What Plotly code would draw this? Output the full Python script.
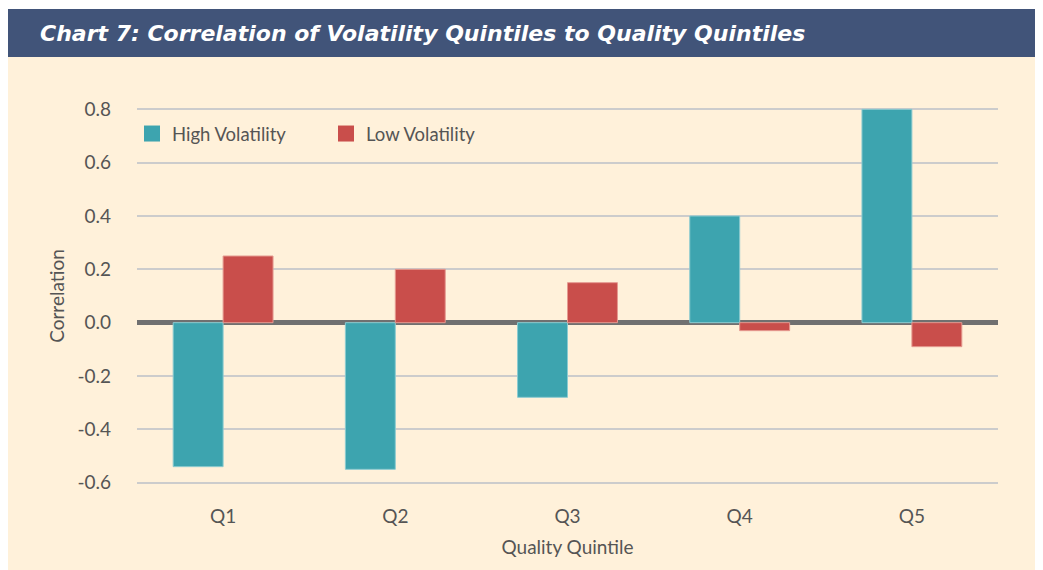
import plotly.graph_objects as go

categories = ["Q1", "Q2", "Q3", "Q4", "Q5"]
high_vol = [-0.54, -0.55, -0.28, 0.40, 0.80]
low_vol = [0.25, 0.20, 0.15, -0.03, -0.09]
y_ticks = [0.8, 0.6, 0.4, 0.2, 0.0, -0.2, -0.4, -0.6]
y_tick_text = ["0.8", "0.6", "0.4", "0.2", "0.0", "-0.2", "-0.4", "-0.6"]

TEAL = "#3da4af"
RED = "#c94e4b"
CREAM = "#fff1da"
BLUE = "#415479"
TXT = "#555555"
FONT = "Lato, 'Open Sans', sans-serif"

W, H = 1035, 562
L, R, T, B = 129, 45, 88, 74
PW, PH = W - L - R, H - T - B

fig = go.Figure()
fig.add_trace(go.Bar(x=categories, y=high_vol, name="High Volatility",
                     marker=dict(color=TEAL, line=dict(color="#8ccbd0", width=1)),
                     showlegend=False))
fig.add_trace(go.Bar(x=categories, y=low_vol, name="Low Volatility",
                     marker=dict(color=RED, line=dict(color="#e59a90", width=1)),
                     showlegend=False))
# legend entries with larger square swatches
fig.add_trace(go.Scatter(x=[None], y=[None], mode="markers", name="High Volatility",
                         marker=dict(symbol="square", size=20, color=TEAL)))
fig.add_trace(go.Scatter(x=[None], y=[None], mode="markers", name="Low Volatility",
                         marker=dict(symbol="square", size=20, color=RED)))

fig.update_layout(
    width=W, height=H,
    margin=dict(l=L, r=R, t=T, b=B),
    paper_bgcolor=CREAM, plot_bgcolor=CREAM,
    barmode="group", bargap=0.42, bargroupgap=0,
    font=dict(family=FONT, size=19, color=TXT),
    showlegend=True,
    legend=dict(orientation="h", x=-5 / PW, y=0.985 - 13 / PH, xanchor="left", yanchor="top",
                bgcolor="rgba(0,0,0,0)", font=dict(size=18.5, color=TXT),
                entrywidth=149, entrywidthmode="pixels"),
    xaxis=dict(showgrid=False, showline=False, ticks="", ticklabelstandoff=7,
               title=dict(text="Quality Quintile", standoff=14, font=dict(size=19)),
               tickfont=dict(size=19)),
    yaxis=dict(range=[-0.65, 0.85], tickvals=y_ticks, ticktext=y_tick_text,
               showgrid=True, gridcolor="#cccccc", gridwidth=2,
               zeroline=True, zerolinecolor="#707070", zerolinewidth=5,
               showline=False, ticks="", ticklabelstandoff=25,
               title=dict(text="Correlation", standoff=7, font=dict(size=19)),
               tickfont=dict(size=19)),
    shapes=[
        dict(type="rect", xref="paper", yref="paper", layer="below",
             x0=-L / PW, x1=(W - L) / PW, y0=1 + (T - 1) / PH, y1=1 + T / PH,
             fillcolor="white", line=dict(width=0)),
        dict(type="rect", xref="paper", yref="paper", layer="below",
             x0=-L / PW, x1=(W - L) / PW, y0=1 + (T - 49) / PH, y1=1 + (T - 1) / PH,
             fillcolor=BLUE, line=dict(width=0)),
    ],
    annotations=[
        dict(text="<b><i>Chart 7: Correlation of Volatility Quintiles to Quality Quintiles</i></b>",
             xref="paper", yref="paper", x=(30 - L) / PW, y=1 + (T - 25) / PH,
             xanchor="left", yanchor="middle", showarrow=False,
             font=dict(family="DejaVu Sans", size=22, color="white")),
    ],
)

fig.write_html("out.html")
